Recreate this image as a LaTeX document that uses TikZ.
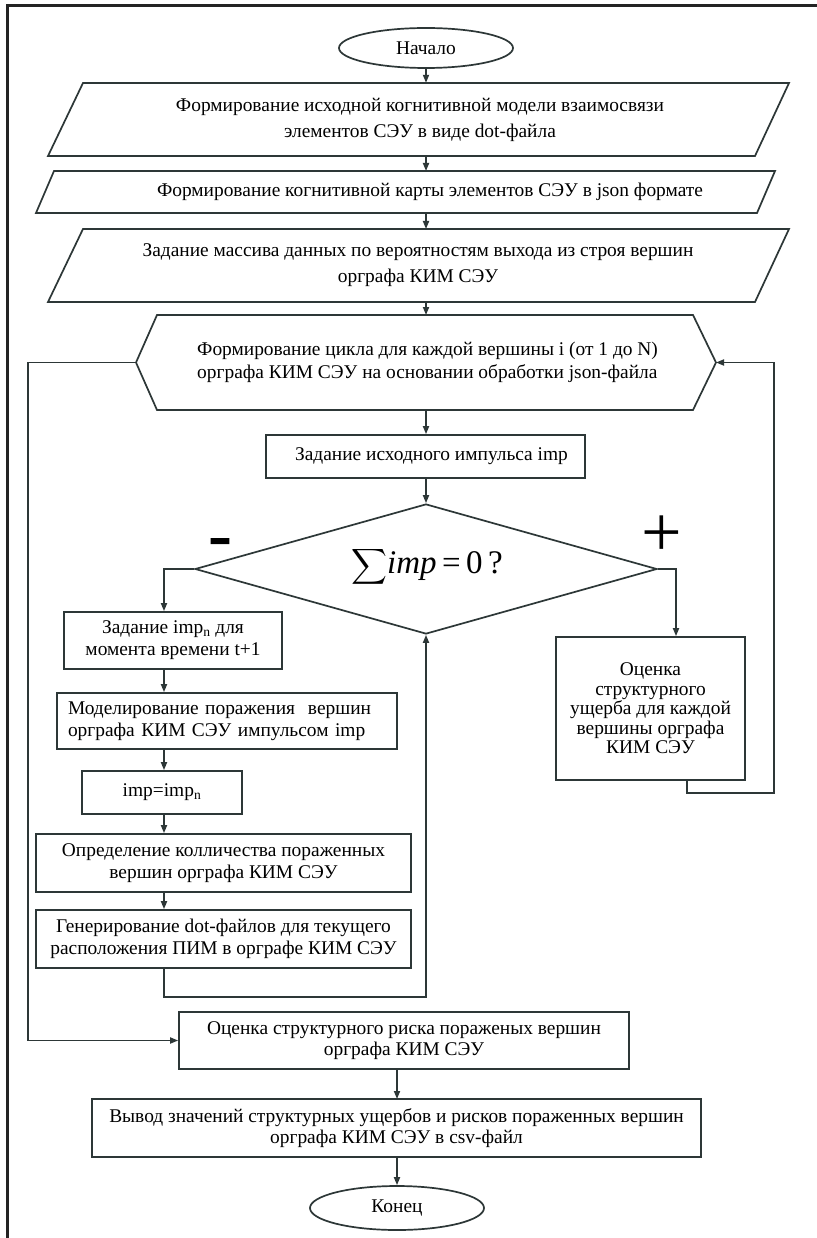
\documentclass[tikz,border=0pt]{standalone}
\usepackage{exscale}
\usepackage{fontspec}
\setmainfont{Liberation Serif}
\usetikzlibrary{shapes.geometric,arrows.meta,calc}
\definecolor{ln}{RGB}{45,55,55}
\definecolor{fr}{RGB}{35,35,35}
\tikzset{
  lnstyle/.style={draw=ln, line width=1.7pt},
  arr/.style={draw=ln, line width=1.7pt, -{Triangle[length=8pt,width=6pt]}},
  boxnode/.style={lnstyle, rectangle, inner sep=0pt, align=center, font=\fontsize{19.4}{22}\selectfont},
  txt/.style={inner sep=0pt, align=center, font=\fontsize{19.4}{22}\selectfont},
  ovalnode/.style={lnstyle, ellipse, inner sep=0pt, font=\fontsize{19.4}{22}\selectfont},
}
\begin{document}
\begin{tikzpicture}[x=1pt,y=-1pt]
\useasboundingbox (0,0) rectangle (816,1238);
\fill[white] (0,0) rectangle (816,1238);
% frame
\draw[fr, line width=3pt] (7,1240) -- (7,6) -- (818,6);

% start
\node[ovalnode, minimum width=174pt, minimum height=40pt] (start) at (426,48) {Начало};

% parallelogram 1
\draw[lnstyle] (83,83) -- (789,83) -- (755,156) -- (48,156) -- cycle;
\node[txt, minimum width=700pt, minimum height=73pt, font=\fontsize{19.4}{26}\selectfont] (p1) at (420,119.5)
  {Формирование исходной когнитивной модели взаимосвязи\\элементов СЭУ в виде dot-файла};

% parallelogram 2
\draw[lnstyle] (54,171) -- (775,171) -- (757,213) -- (36,213) -- cycle;
\node[txt, minimum width=700pt, minimum height=42pt] (p2) at (430,192)
  {Формирование когнитивной карты элементов СЭУ в json формате};

% parallelogram 3
\draw[lnstyle] (83,229) -- (789,229) -- (755,302) -- (48,302) -- cycle;
\node[txt, minimum width=700pt, minimum height=73pt, font=\fontsize{19.4}{26}\selectfont] (p3) at (418,265.5)
  {Задание массива данных по вероятностям выхода из строя вершин\\орграфа КИМ СЭУ};

% hexagon
\draw[lnstyle] (157,315) -- (693,315) -- (716,362.5) -- (693,410) -- (157,410) -- (136,362.5) -- cycle;
\node[txt, minimum width=580pt, minimum height=95pt] (hex) at (426,362.5) {};
\coordinate (hexW) at (136,362.5);
\coordinate (hexE) at (716,362.5);
\node[txt, align=left, anchor=west, font=\fontsize{19.4}{23}\selectfont] (hext) at (197,362.5)
  {Формирование цикла для каждой вершины i (от 1 до N)\\орграфа КИМ СЭУ на основании обработки json-файла};

% box imp
\node[boxnode, minimum width=319pt, minimum height=43pt] (b1) at (425.5,456.5) {\hspace*{12pt}Задание исходного импульса imp};

% diamond
\node[lnstyle, diamond, aspect=3.5, inner sep=0pt, minimum width=462pt, minimum height=130pt] (dia) at (426,569) {};
\node[txt, font=\fontsize{33}{36}\selectfont] (sum) at (427,567) {$\displaystyle\sum$\textit{imp}\,=\,0\,?};
\node[txt, font=\fontsize{72}{72}\selectfont\bfseries] (minus) at (220,548) {-};
\node[txt, font=\fontsize{72}{72}\selectfont] (plus) at (662,536) {+};

% left branch
\node[boxnode, minimum width=218pt, minimum height=57pt] (l1) at (173,640.5) {Задание imp\textsubscript{n} для\\момента времени t+1};
\node[boxnode, minimum width=340pt, minimum height=56pt, text width=318pt, align=left, font=\fontsize{19.4}{21.5}\selectfont] (l2) at (227,721) {Моделирование поражения\ \ вершин\\орграфа КИМ СЭУ импульсом imp};
\node[boxnode, minimum width=160pt, minimum height=43pt] (l3) at (162,792.5) {imp=imp\textsubscript{n}};
\node[boxnode, minimum width=375pt, minimum height=58pt, font=\fontsize{19.4}{21.5}\selectfont] (l4) at (223.5,863) {Определение колличества пораженных\\вершин орграфа КИМ СЭУ};
\node[boxnode, minimum width=375pt, minimum height=58pt, font=\fontsize{19.4}{21.5}\selectfont] (l5) at (223.5,939) {Генерирование dot-файлов для текущего\\расположения ПИМ в орграфе КИМ СЭУ};

% right branch
\node[boxnode, minimum width=189pt, minimum height=143pt, font=\fontsize{19.4}{19.5}\selectfont] (r1) at (650.5,708.5) {Оценка\\структурного\\ущерба для каждой\\вершины орграфа\\КИМ СЭУ};

% bottom
\node[boxnode, minimum width=450pt, minimum height=57pt, font=\fontsize{19.4}{21.5}\selectfont] (b2) at (404,1040.5) {Оценка структурного риска пораженых вершин\\орграфа КИМ СЭУ};
\node[boxnode, minimum width=609pt, minimum height=58pt, font=\fontsize{19.4}{21.5}\selectfont] (b3) at (396.5,1128) {Вывод значений структурных ущербов и рисков пораженных вершин\\орграфа КИМ СЭУ в csv-файл};
\node[ovalnode, minimum width=174pt, minimum height=44pt] (end) at (397,1208) {Конец};

% connectors main
\draw[arr] (start.south) -- (start.south |- p1.north);
\draw[arr] (426,156) -- (426,171);
\draw[arr] (426,213) -- (426,229);
\draw[arr] (426,302) -- (426,315);
\draw[arr] (hex.south) -- (hex.south |- b1.north);
\draw[arr] (b1.south -| dia.north) -- (dia.north);

% left branch connectors
\coordinate (xl) at (164,0);
\draw[arr] (dia.west) -- (dia.west -| xl) -- (xl |- l1.north);
\draw[arr] (xl |- l1.south) -- (xl |- l2.north);
\draw[arr] (xl |- l2.south) -- (xl |- l3.north);
\draw[arr] (xl |- l3.south) -- (xl |- l4.north);
\draw[arr] (xl |- l4.south) -- (xl |- l5.north);
\coordinate (lret) at (164,997);
\draw[arr] (xl |- l5.south) -- (lret) -- (lret -| dia.south) -- (dia.south);

% right branch connectors
\coordinate (xr) at (676,0);
\draw[arr] (dia.east) -- (dia.east -| xr) -- (xr |- r1.north);
\coordinate (rret) at (687,793);
\coordinate (xrr) at (774,0);
\draw[arr] (rret |- r1.south) -- (rret) -- (rret -| xrr) -- (xrr |- hexE) -- (hexE);

% outer loop
\coordinate (xo) at (28,0);
\draw[arr] (hexW) -- (hexW -| xo) -- (xo |- b2.west) -- (b2.west);

% bottom connectors
\draw[arr] (397,1069) -- (397,1099);
\draw[arr] (b3.south -| end.north) -- (end.north);
\end{tikzpicture}
\end{document}
